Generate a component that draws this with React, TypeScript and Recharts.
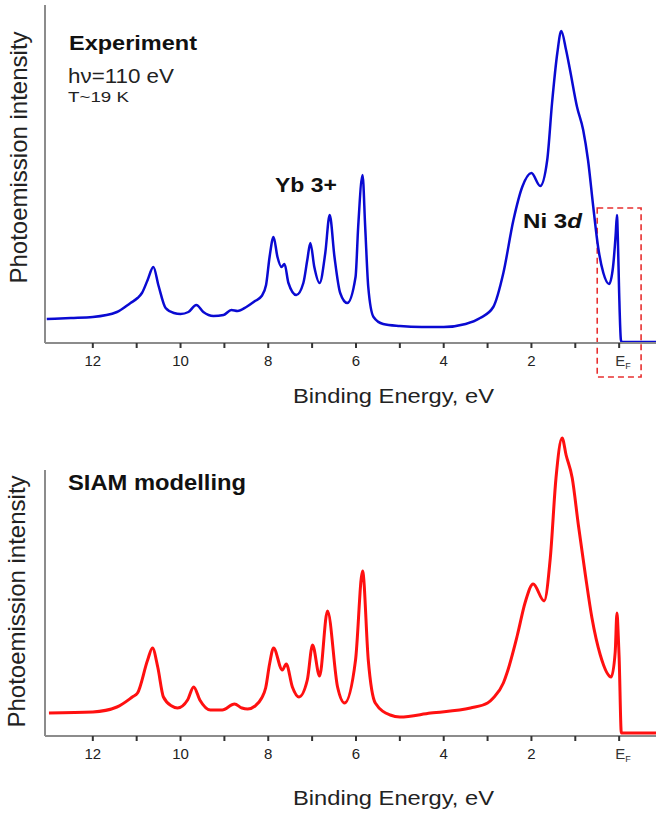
import React from 'react';
import { LineChart, Line, XAxis, YAxis, ReferenceLine, ReferenceArea } from 'recharts';

// ---- Data (binding energy in eV, intensity in arbitrary units) ----
const energyExperiment = [
  13.05, 12.5, 12.0, 11.45, 11.14, 10.98, 10.88, 10.75, 10.62, 10.5, 10.34, 10.15, 10.0,
  9.82, 9.64, 9.48, 9.25, 9.02, 8.84, 8.7, 8.5, 8.3, 8.15, 8.05, 7.97, 7.88, 7.79, 7.7,
  7.63, 7.54, 7.36, 7.2, 7.11, 7.04, 6.95, 6.83, 6.7, 6.6, 6.49, 6.36, 6.2, 6.01, 5.95,
  5.85, 5.79, 5.72, 5.6, 5.38, 5.0, 4.5, 4.0, 3.5, 3.17, 2.87, 2.64, 2.41, 2.21, 2.0,
  1.8, 1.64, 1.53, 1.41, 1.32, 1.21, 1.12, 0.96, 0.82, 0.71, 0.59, 0.48, 0.36, 0.23,
  0.14, 0.08, 0.05, 0.03, 0.0, -0.04, -0.06, -0.84,
];
const intensityExperiment = [
  24, 25, 26, 31, 40, 45, 50, 63, 76, 57, 35, 30, 29,
  31, 38, 31, 27, 28, 33, 32, 36, 42, 47, 58, 86, 106, 86, 76,
  79, 60, 48, 60, 83, 100, 76, 60, 90, 128, 86, 50, 40, 66, 116,
  168, 116, 56, 26, 19, 17, 16, 16, 19, 25, 36, 70, 123, 156, 170,
  157, 183, 240, 290, 312, 293, 273, 236, 213, 183, 136, 96, 70, 59,
  76, 108, 128, 105, 50, 3, 1, 1,
];

const energyModel = [
  13.0, 12.0, 11.45, 11.1, 10.98, 10.75, 10.64, 10.52, 10.39, 10.2, 10.07, 9.84, 9.7,
  9.56, 9.32, 9.05, 8.77, 8.6, 8.47, 8.3, 8.15, 8.06, 7.97, 7.88, 7.68, 7.59, 7.45,
  7.3, 7.11, 6.99, 6.83, 6.65, 6.42, 6.26, 6.01, 5.85, 5.72, 5.56, 5.22, 5.0, 4.3,
  3.39, 3.0, 2.87, 2.64, 2.55, 2.32, 2.14, 1.96, 1.71, 1.57, 1.44, 1.3, 1.21, 1.07,
  0.93, 0.77, 0.62, 0.43, 0.18, 0.09, 0.05, 0.02, 0.0, -0.05, -0.84,
];
const intensityModel = [
  23, 24, 29, 39, 43, 76, 88, 69, 39, 30, 28, 36, 49,
  36, 26, 26, 32, 28, 27, 30, 38, 48, 72, 88, 66, 72, 49,
  39, 56, 91, 60, 125, 49, 33, 76, 165, 76, 33, 21, 19, 23,
  28, 33, 38, 53, 64, 101, 134, 152, 135, 178, 258, 298, 281, 258,
  211, 161, 118, 81, 59, 84, 123, 100, 78, 3, 3,
];

const tickValues = [0, 1, 2, 3, 4, 5, 6, 7, 8, 9, 10, 11, 12];
const tickLabels = ['EF', '', '2', '', '4', '', '6', '', '8', '', '10', '', '12'];

const X_MIN = -0.84;
const X_MAX = 13.09;
const TOP_Y_MAX = 338;
const BOTTOM_Y_MAX = 306;
const BOTTOM_AXIS_TOP = 266;
const FERMI_BOX = { x1: 0.5, x2: -0.5, y1: -34, y2: 135 };

const experimentData = energyExperiment.map((e, i) => ({ e, v: intensityExperiment[i] }));
const modelData = energyModel.map((e, i) => ({ e, v: intensityModel[i] }));

const FONT = '"Liberation Sans", Arial, Helvetica, sans-serif';
const AXIS_COLOR = '#8c8c8c';

const Tick = (props: any) => {
  const { x, y, payload } = props;
  const idx = tickValues.indexOf(payload.value);
  const label = idx >= 0 ? tickLabels[idx] : '';
  if (!label) return null;
  if (label === 'EF') {
    return (
      <text x={x - 4} y={y + 16} fontSize={15} fill="#333" fontFamily={FONT}>
        <tspan>E</tspan>
        <tspan fontSize={9} dy={3}>F</tspan>
      </text>
    );
  }
  return (
    <text x={x} y={y + 16} fontSize={15} fill="#222" textAnchor="middle" fontFamily={FONT}>
      {label}
    </text>
  );
};

function Panel(props: {
  data: { e: number; v: number }[];
  color: string;
  width: number;
  yMax: number;
  axisTop: number;
  marginTop: number;
  height: number;
  box?: boolean;
}) {
  const { data, color, width, yMax, axisTop, marginTop, height, box } = props;
  return (
    <LineChart
      width={656}
      height={height}
      data={data}
      margin={{ top: marginTop, right: 0, bottom: 0, left: 0 }}
    >
      <XAxis
        dataKey="e"
        type="number"
        domain={[X_MIN, X_MAX]}
        reversed
        allowDataOverflow
        ticks={tickValues}
        interval={0}
        tickSize={5}
        tick={<Tick />}
        axisLine={{ stroke: AXIS_COLOR, strokeWidth: 2 }}
        tickLine={{ stroke: '#333', strokeWidth: 2 }}
        height={height - marginTop - yMax}
      />
      <YAxis
        type="number"
        domain={[0, yMax]}
        width={45}
        tick={false}
        axisLine={false}
        tickLine={false}
        allowDataOverflow
      />
      <ReferenceLine
        segment={[
          { x: X_MAX, y: 0 },
          { x: X_MAX, y: axisTop },
        ]}
        stroke={AXIS_COLOR}
        strokeWidth={2}
        ifOverflow="visible"
      />
      {box && (
        <ReferenceArea
          x1={FERMI_BOX.x1}
          x2={FERMI_BOX.x2}
          y1={FERMI_BOX.y1}
          y2={FERMI_BOX.y2}
          ifOverflow="visible"
          fill="none"
          fillOpacity={0}
          stroke="#e83030"
          strokeWidth={1.6}
          strokeDasharray="6 4"
        />
      )}
      <Line
        type="monotone"
        dataKey="v"
        stroke={color}
        strokeWidth={width}
        dot={false}
        isAnimationActive={false}
      />
    </LineChart>
  );
}

export default function App() {
  return (
    <div style={{ position: 'absolute', left: 0, top: 0, width: 656, height: 815, background: '#fff' }}>
      <div style={{ position: 'absolute', left: 0, top: 0 }}>
        <Panel data={experimentData} color="#0a0ad2" width={2.5} yMax={TOP_Y_MAX} axisTop={TOP_Y_MAX} marginTop={5} height={410} box />
      </div>
      <div style={{ position: 'absolute', left: 0, top: 410 }}>
        <Panel data={modelData} color="#ff1010" width={3} yMax={BOTTOM_Y_MAX} axisTop={BOTTOM_AXIS_TOP} marginTop={20} height={405} />
      </div>
      <svg
        width={656}
        height={815}
        style={{ position: 'absolute', left: 0, top: 0, pointerEvents: 'none' }}
        fontFamily={FONT}
      >
        <text x={69} y={49.5} fontSize={20} fontWeight="bold" fill="#111" textLength={128} lengthAdjust="spacingAndGlyphs">Experiment</text>
        <text x={68} y={83} fontSize={20} fill="#222" textLength={106} lengthAdjust="spacingAndGlyphs">hν=110 eV</text>
        <text x={68} y={101.5} fontSize={15} fill="#222" textLength={61} lengthAdjust="spacingAndGlyphs">T~19 K</text>
        <text x={275} y={192} fontSize={21} fontWeight="bold" fill="#111" textLength={62} lengthAdjust="spacingAndGlyphs">Yb 3+</text>
        <text x={523} y={228} fontSize={20} fontWeight="bold" fill="#111" textLength={59} lengthAdjust="spacingAndGlyphs">
          Ni 3<tspan fontStyle="italic">d</tspan>
        </text>
        <text x={68} y={490} fontSize={22} fontWeight="bold" fill="#111" textLength={178} lengthAdjust="spacingAndGlyphs">SIAM modelling</text>
        <text x={293} y={403} fontSize={21} fill="#222" textLength={201} lengthAdjust="spacingAndGlyphs">Binding Energy, eV</text>
        <text x={293} y={805} fontSize={21} fill="#222" textLength={201} lengthAdjust="spacingAndGlyphs">Binding Energy, eV</text>
        <text
          x={0}
          y={0}
          fontSize={24}
          fill="#222"
          textAnchor="middle"
          transform="translate(27,157.5) rotate(-90)"
        >
          Photoemission intensity
        </text>
        <text
          x={0}
          y={0}
          fontSize={24}
          fill="#222"
          textAnchor="middle"
          transform="translate(25,601.5) rotate(-90)"
        >
          Photoemission intensity
        </text>
      </svg>
    </div>
  );
}
